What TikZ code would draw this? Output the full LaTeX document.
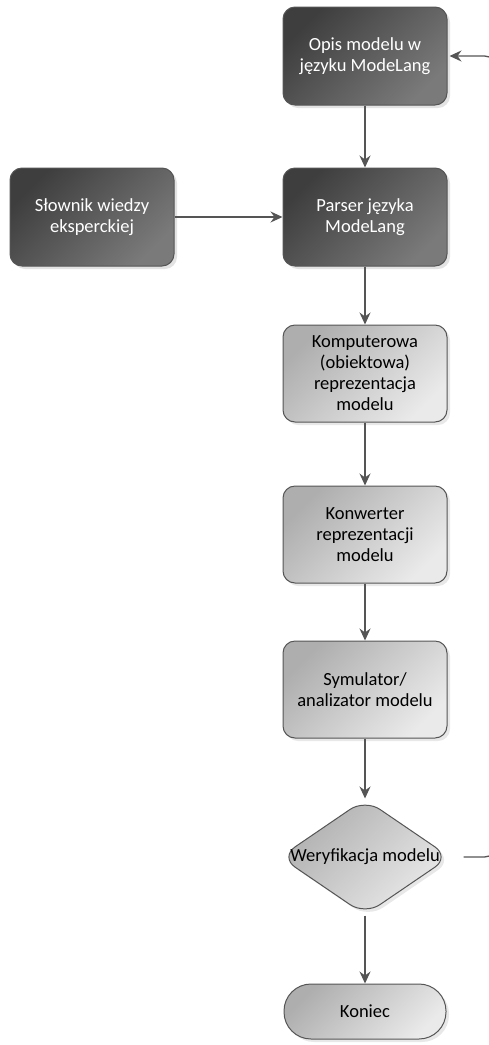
\documentclass[tikz,border=0pt]{standalone}
\usepackage{fontspec}
\setmainfont{Carlito}
\usepackage{tikz}
\usetikzlibrary{positioning,shapes.geometric,shadows,arrows.meta}

\definecolor{linegray}{HTML}{555555}
\definecolor{darkA}{HTML}{3E3E3E}
\definecolor{darkB}{HTML}{7A7A7A}
\definecolor{lightA}{HTML}{AEAEAE}
\definecolor{lightB}{HTML}{EAEAEA}

\begin{document}
\begin{tikzpicture}[x=1pt, y=1pt,
font=\fontsize{18.5}{21}\selectfont,
node distance=60pt,
darknode/.style={rectangle, rounded corners=12pt, draw=linegray, line width=1pt, top color=darkA, bottom color=darkB, shading angle=45, text=white, align=center, minimum width=164pt, minimum height=98pt, drop shadow={shadow xshift=3pt, shadow yshift=-3pt, fill=black!22}},
lightnode/.style={rectangle, rounded corners=12pt, draw=linegray, line width=1pt, top color=lightA, bottom color=lightB, shading angle=45, align=center, minimum width=164pt, minimum height=97pt, drop shadow={shadow xshift=3pt, shadow yshift=-3pt, fill=black!18}},
decisionnode/.style={diamond, rounded corners=18pt, draw=linegray, line width=1pt, top color=lightA, bottom color=lightB, shading angle=45, inner sep=0pt, minimum width=170pt, minimum height=116pt, aspect=1.46, drop shadow={shadow xshift=3pt, shadow yshift=-3pt, fill=black!18}},
endnode/.style={rectangle, rounded corners=27pt, draw=linegray, line width=1pt, top color=lightA, bottom color=lightB, shading angle=45, minimum width=162pt, minimum height=55pt, drop shadow={shadow xshift=3pt, shadow yshift=-3pt, fill=black!18}},
arrow/.style={-{Stealth[length=12pt, width=11pt, inset=4pt]}, draw=linegray, line width=1.3pt},
]
\useasboundingbox (0,0) rectangle (489,-1045);
\clip (0,0) rectangle (489,-1045);

%Nodes
\node[darknode]      (Opis)      at (365,-56)         {Opis modelu w\\języku ModeLang};
\node[darknode]      (Parser)    [below=62pt of Opis]  {Parser języka\\ModeLang};
\node[darknode]      (Slownik)   [left=108pt of Parser] {Słownik wiedzy\\eksperckiej};
\node[lightnode]     (Komputer)  [below=58pt of Parser] {Komputerowa\\(obiektowa)\\reprezentacja\\modelu};
\node[lightnode]     (Konwerter) [below=63pt of Komputer] {Konwerter\\reprezentacji\\modelu};
\node[lightnode]     (Symulator) [below=57pt of Konwerter] {Symulator/\\analizator modelu};
\node[decisionnode]  (Weryfikacja) [below=60pt of Symulator, label=center:{Weryfikacja modelu}] {};
\node[endnode]       (Koniec)    [below=68pt of Weryfikacja] {Koniec};

%Lines
\draw[arrow] (Opis.south) -- (Parser.north);
\draw[arrow] (Slownik.east) -- (Parser.west);
\draw[arrow] (Parser.south) -- (Komputer.north);
\draw[arrow] (Komputer.south) -- (Konwerter.north);
\draw[arrow] (Konwerter.south) -- (Symulator.north);
\draw[arrow] (Symulator.south) -- (Weryfikacja.north);
\draw[arrow] (Weryfikacja.south) -- (Koniec.north);
\draw[arrow, rounded corners=12pt] ([xshift=13pt]Weryfikacja.east) -- ++(33pt,0) |- ([xshift=2pt]Opis.east);

\end{tikzpicture}
\end{document}
